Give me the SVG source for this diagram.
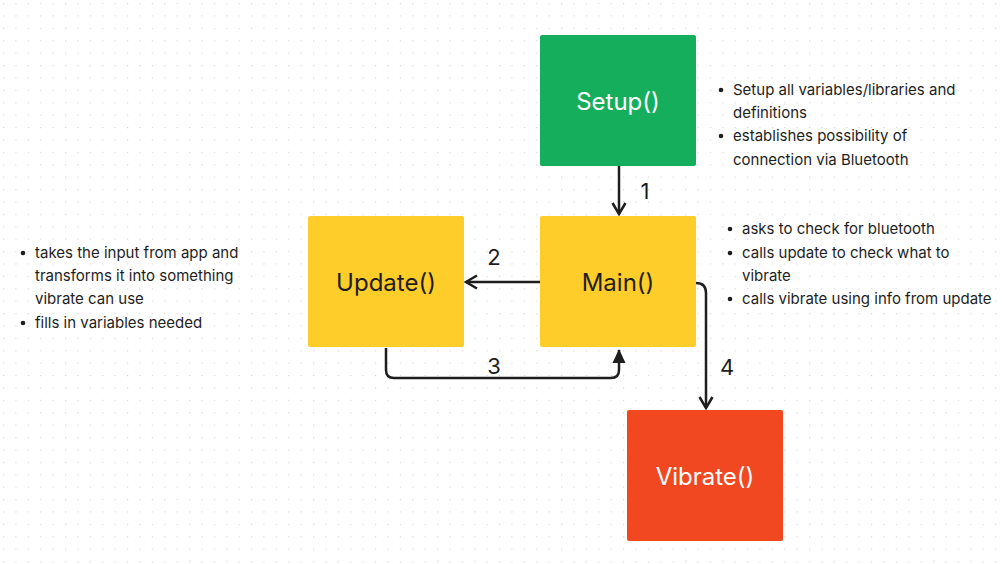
<svg xmlns="http://www.w3.org/2000/svg" width="1002" height="564" viewBox="0 0 1002 564">
<defs>
<pattern id="dots" x="3" y="3" width="12.4" height="12.4" patternUnits="userSpaceOnUse">
<rect x="0" y="0" width="1.2" height="1.2" fill="#d6d6d6"/>
</pattern>
<marker id="arr" viewBox="0 0 16 16" refX="14" refY="8" markerWidth="16" markerHeight="16" markerUnits="userSpaceOnUse" orient="auto">
<path d="M3,1.5 L14,8 L3,14.5" fill="none" stroke="#1e1e1e" stroke-width="2.5" stroke-linejoin="miter"/>
</marker>
<marker id="tri" viewBox="0 0 16 16" refX="14" refY="8" markerWidth="16" markerHeight="16" markerUnits="userSpaceOnUse" orient="auto">
<path d="M1,1.5 L15,8 L1,14.5 Z" fill="#1e1e1e"/>
</marker>
</defs>
<style>
.box{stroke:none}
.lbl{font-family:Inter,"Liberation Sans",sans-serif;font-size:24px;text-anchor:middle;dominant-baseline:central}
.note{font-family:Inter,"Liberation Sans",sans-serif;font-size:15px;fill:#1e1e1e}
.num{font-family:Inter,"Liberation Sans",sans-serif;font-size:22px;fill:#1e1e1e;text-anchor:middle;dominant-baseline:central}
.con{fill:none;stroke:#1e1e1e;stroke-width:2.5}
</style>
<rect width="1002" height="564" fill="#ffffff"/>
<rect width="1002" height="564" fill="url(#dots)"/>
<g id="setup">
<rect class="box" x="540" y="35" width="156" height="131" rx="2" fill="#14AE5C"/>
<text class="lbl" x="618" y="101" fill="#ffffff">Setup()</text>
</g>
<g id="main">
<rect class="box" x="540" y="216" width="156" height="131" rx="2" fill="#FFCD29"/>
<text class="lbl" x="618" y="282" fill="#1e1e1e">Main()</text>
</g>
<g id="update">
<rect class="box" x="308" y="216" width="156" height="131" rx="2" fill="#FFCD29"/>
<text class="lbl" x="386" y="282" fill="#1e1e1e">Update()</text>
</g>
<g id="vibrate">
<rect class="box" x="627" y="410" width="156" height="131" rx="2" fill="#F24822"/>
<text class="lbl" x="705" y="476" fill="#ffffff">Vibrate()</text>
</g>
<g id="connectors">
<path class="con" d="M619,166 L619,214" marker-end="url(#arr)"/>
<text class="num" x="645" y="191">1</text>
<path class="con" d="M540,282 L466,282" marker-end="url(#arr)"/>
<text class="num" x="494" y="257">2</text>
<path class="con" d="M386,348 L386,370 Q386,378 394,378 L611,378 Q619,378 619,370 L619,350" marker-end="url(#tri)"/>
<text class="num" x="494" y="366">3</text>
<path class="con" d="M696,283 Q706,283 706,293 L706,408" marker-end="url(#arr)"/>
<text class="num" x="727" y="367">4</text>
</g>
<g id="setup-notes">
<circle cx="721" cy="90" r="2.3" fill="#1e1e1e"/>
<text class="note" x="733" y="95">Setup all variables/libraries and</text>
<text class="note" x="733" y="118">definitions</text>
<circle cx="721" cy="136" r="2.3" fill="#1e1e1e"/>
<text class="note" x="733" y="141">establishes possibility of</text>
<text class="note" x="733" y="165">connection via Bluetooth</text>
</g>
<g id="main-notes">
<circle cx="730" cy="229" r="2.3" fill="#1e1e1e"/>
<text class="note" x="742" y="234">asks to check for bluetooth</text>
<circle cx="730" cy="253" r="2.3" fill="#1e1e1e"/>
<text class="note" x="742" y="258">calls update to check what to</text>
<text class="note" x="742" y="281">vibrate</text>
<circle cx="730" cy="299" r="2.3" fill="#1e1e1e"/>
<text class="note" x="742" y="304">calls vibrate using info from update</text>
</g>
<g id="update-notes">
<circle cx="23" cy="253" r="2.3" fill="#1e1e1e"/>
<text class="note" x="35" y="258">takes the input from app and</text>
<text class="note" x="35" y="281">transforms it into something</text>
<text class="note" x="35" y="304">vibrate can use</text>
<circle cx="23" cy="323" r="2.3" fill="#1e1e1e"/>
<text class="note" x="35" y="328">fills in variables needed</text>
</g>
</svg>
